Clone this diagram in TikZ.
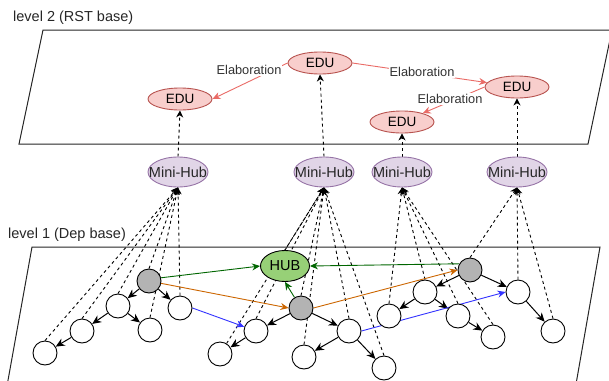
\documentclass[tikz,border=0pt]{standalone}
\usepackage{fontspec}
\setmainfont{Liberation Sans}
\usetikzlibrary{shapes.geometric,arrows.meta,calc}
\pgfdeclarelayer{planes}
\pgfdeclarelayer{links}
\pgfsetlayers{planes,links,main}

\definecolor{edufill}{HTML}{F8CECC}
\definecolor{eduline}{HTML}{B85450}
\definecolor{mhfill}{HTML}{E1D5E7}
\definecolor{mhline}{HTML}{9673A6}
\definecolor{hubfill}{HTML}{97D077}
\definecolor{elab}{HTML}{EA6B66}
\definecolor{tokgray}{HTML}{B3B3B3}
\definecolor{greenarr}{HTML}{006600}
\definecolor{orangearr}{HTML}{CC6600}
\definecolor{bluearr}{HTML}{3333FF}

\tikzset{
  plane/.style={draw=black!85, fill=white, line width=1pt},
  edu/.style={ellipse, draw=eduline, fill=edufill, minimum width=64pt, minimum height=22pt,
    inner sep=0pt, line width=0.9pt, font=\fontsize{13.5}{15}\selectfont},
  minihub/.style={ellipse, draw=mhline, fill=mhfill, minimum width=60pt, minimum height=30pt,
    inner sep=0pt, line width=0.9pt},
  mhtext/.style={label={[text=black!85, font=\fontsize{14.5}{16}\selectfont]center:Mini-Hub}},
  hubnode/.style={ellipse, draw=black, fill=hubfill, minimum width=49pt, minimum height=31pt,
    inner sep=0pt, line width=0.9pt, font=\fontsize{14.5}{16}\selectfont},
  tok/.style={circle, draw=black, fill=white, minimum size=24pt, inner sep=0pt, line width=0.9pt},
  headtok/.style={tok, fill=tokgray},
  treeedge/.style={-{Stealth[length=9pt,width=8pt]}, draw=black, line width=1pt},
  uplink/.style={-{Stealth[length=7pt,width=7pt]}, draw=black, dash pattern=on 3pt off 3pt,
    line width=0.9pt},
  elabedge/.style={-{Stealth[length=8pt,width=7pt]}, draw=elab, line width=0.9pt},
  elablabel/.style={fill=white, inner sep=1pt, text=black!80, font=\fontsize{12.8}{14}\selectfont},
  cross/.style={-{Stealth[length=8pt,width=7pt]}, line width=0.9pt},
  levellabel/.style={anchor=west, inner sep=0pt, text=black!85, font=\fontsize{14.5}{16}\selectfont},
}

\begin{document}
\begin{tikzpicture}[x=1pt, y=-1pt]
\useasboundingbox (0,0) rectangle (609,380);

% the two planes
\begin{pgfonlayer}{planes}
  \draw[plane] (43,30) -- (612,30) -- (588,144) -- (19,144) -- cycle;
  \draw[plane] (32,247) -- (600,247) -- (565,447) -- (-4,447) -- cycle;
\end{pgfonlayer}

\node[levellabel] (lv2) at (13,18) {level 2 (RST base)};
\node[levellabel] (lv1) at (8,235) {level 1 (Dep base)};

% level 2: EDUs
\node[edu] (e1) at (180,99) {EDU};
\node[edu] (e2) at (320,63) {EDU};
\node[edu] (e3) at (517,87) {EDU};
\node[edu] (e4) at (402,122) {EDU};

% mini hubs between the levels
\node[minihub, mhtext] (m1) at (178,172) {};
\node[minihub, mhtext] (m2) at (324,172) {};
\node[minihub, mhtext] (m3) at (402,172) {};
\node[minihub, mhtext] (m4) at (517,172) {};

% level 1: dependency trees
\node[hubnode] (hub) at (285,266) {HUB};

\node[headtok] (A) at (149,281) {};
\node[tok] (a1) at (118,306) {};
\node[tok] (a2) at (180,308) {};
\node[tok] (a3) at (82,331) {};
\node[tok] (a4) at (150,330) {};
\node[tok] (a5) at (45,353) {};

\node[headtok] (B) at (301,308) {};
\node[tok] (b1) at (256,331) {};
\node[tok] (b2) at (220,354) {};
\node[tok] (b3) at (349,331) {};
\node[tok] (b4) at (304,357) {};
\node[tok] (b5) at (384,368) {};

\node[headtok] (C) at (470,270) {};
\node[tok] (c1) at (425,292) {};
\node[tok] (c2) at (518,292) {};
\node[tok] (c3) at (389,316) {};
\node[tok] (c4) at (458,316) {};
\node[tok] (c5) at (493,337) {};
\node[tok] (c6) at (553,331) {};

% relation labels
\node[elablabel] (l1) at (249,70) {Elaboration};
\node[elablabel] (l2) at (422,72) {Elaboration};
\node[elablabel] (l3) at (450,99) {Elaboration};

\begin{pgfonlayer}{links}
  % links from tokens up to the mini hubs
  \foreach \n in {a5,a3,a1,A,a4,a2} \draw[uplink] (\n.north) -- (m1.south);
  \draw[uplink] (b2) -- (m2.south);
  \foreach \n in {b1,hub,B,b4,b3,b5} \draw[uplink] (\n.north) -- (m2.south);
  \foreach \n in {c3,c1,c4,c5} \draw[uplink] (\n.north) -- (m3.south);
  \foreach \n in {C,c2,c6} \draw[uplink] (\n.north) -- (m4.south);
  % mini hubs up to the EDUs
  \draw[uplink] (m1.north) -- (e1.south);
  \draw[uplink] (m2.north) -- (e2.south);
  \draw[uplink] (m3.north) -- (e4.south);
  \draw[uplink] (m4.north) -- (e3.south);

  % RST relations
  \draw[elabedge] (e2.west) -- (e1.east);
  \draw[elabedge] (e2.east) -- (e3);
  \draw[elabedge] (e3.west) -- (e4);

  % dependency arcs
  \draw[treeedge] (A) -- (a1);
  \draw[treeedge] (A) -- (a2);
  \draw[treeedge] (a1) -- (a3);
  \draw[treeedge] (a1) -- (a4);
  \draw[treeedge] (a3) -- (a5);
  \draw[treeedge] (B) -- (b1);
  \draw[treeedge] (B) -- (b3);
  \draw[treeedge] (b1) -- (b2);
  \draw[treeedge] (b3) -- (b4);
  \draw[treeedge] (b3) -- (b5);
  \draw[treeedge] (C) -- (c1);
  \draw[treeedge] (C) -- (c2);
  \draw[treeedge] (c1) -- (c3);
  \draw[treeedge] (c1) -- (c4);
  \draw[treeedge] (c4) -- (c5);
  \draw[treeedge] (c2) -- (c6);

  % cross-tree links
  \draw[cross, greenarr] (A.15) -- (hub.west);
  \draw[cross, greenarr] (C.150) -- (hub.east);
  \draw[cross, greenarr] (B) -- (hub.south);
  \draw[cross, orangearr] (A) -- (B.west);
  \draw[cross, orangearr] (B.east) -- (C.west);
  \draw[cross, bluearr] (a2.east) -- (b1);
  \draw[cross, bluearr] (b3.east) -- (c2.west);
\end{pgfonlayer}
\end{tikzpicture}
\end{document}
